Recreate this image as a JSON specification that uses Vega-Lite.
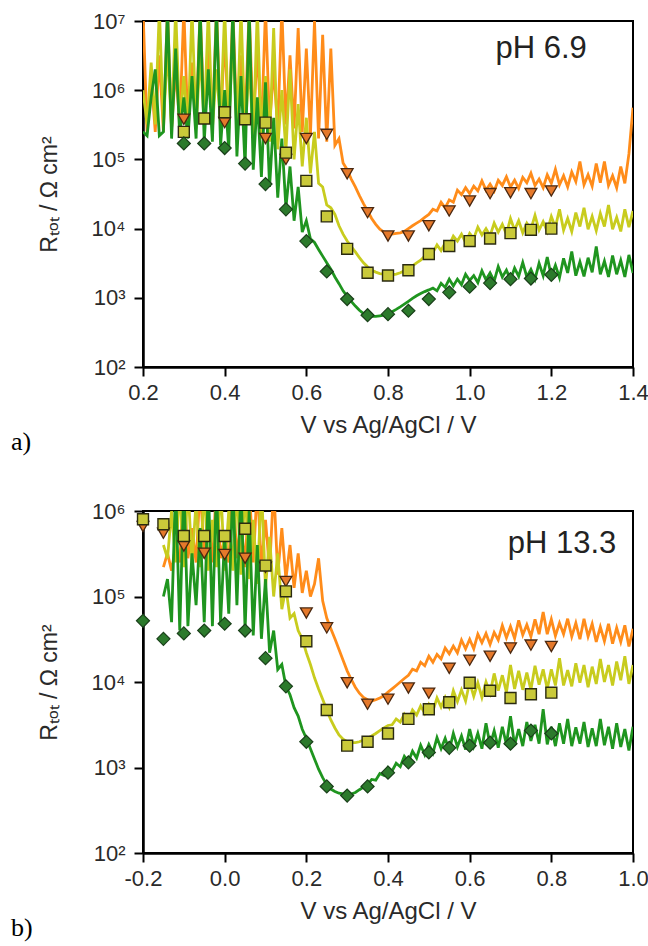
{
"$schema": "https://vega.github.io/schema/vega-lite/v6.json",
"padding": {"left": 10, "top": 9, "right": 0, "bottom": 0},
"background": "white",
"config": {
 "view": {"stroke": "black", "strokeWidth": 2},
 "font": "Liberation Sans",
 "axis": {"domainColor": "black", "domainWidth": 2.5, "tickColor": "black", "tickWidth": 2, "tickSize": 9, "labelFlush": false, "labelFont": "Liberation Sans", "labelFontSize": 22, "labelColor": "#2a2a2a", "titleFont": "Liberation Sans", "titleFontWeight": "normal", "titleColor": "#2a2a2a", "grid": false}
},
"datasets": {
 "la": [
{"x":0.20,"or":1.5e7,"ye":1e6,"gr":2.5e5},
{"x":0.21,"or":2.5e5,"ye":3.2e5,"gr":2.2e5},
{"x":0.22,"or":1.6e6,"ye":2.5e6,"gr":7.9e5},
{"x":0.23,"or":2.5e5,"ye":3.2e5,"gr":2e6},
{"x":0.24,"or":3.2e6,"ye":1.5e7,"gr":2.2e5},
{"x":0.25,"or":2.5e5,"ye":3.2e5,"gr":2.5e5},
{"x":0.26,"or":1.5e7,"ye":4e6,"gr":1.5e7},
{"x":0.27,"or":2.8e5,"ye":2.8e5,"gr":2e5},
{"x":0.28,"or":2e6,"ye":1.5e7,"gr":4e6},
{"x":0.29,"or":3.2e5,"ye":3.2e5,"gr":2.2e5},
{"x":0.30,"or":1.5e7,"ye":1.6e6,"gr":7.9e5},
{"x":0.31,"or":2.8e5,"ye":2.5e5,"gr":2e5},
{"x":0.32,"or":2.5e6,"ye":1.5e7,"gr":1.6e6},
{"x":0.33,"or":3.2e5,"ye":2.8e5,"gr":2e5},
{"x":0.34,"or":1.5e7,"ye":3.2e6,"gr":1.5e7},
{"x":0.35,"or":3.2e5,"ye":3.2e5,"gr":1.8e5},
{"x":0.36,"or":4e6,"ye":1.5e7,"gr":2e6},
{"x":0.37,"or":3.2e5,"ye":2.8e5,"gr":1.8e5},
{"x":0.38,"or":1.5e7,"ye":2e6,"gr":1.5e7},
{"x":0.39,"or":3.2e5,"ye":3.2e5,"gr":1.6e5},
{"x":0.40,"or":6.3e6,"ye":1.5e7,"gr":1e6},
{"x":0.41,"or":2.8e5,"ye":2.8e5,"gr":1.4e5},
{"x":0.42,"or":1.5e7,"ye":6.3e6,"gr":1.5e7},
{"x":0.43,"or":3.2e5,"ye":2.5e5,"gr":1.1e5},
{"x":0.44,"or":3.2e6,"ye":1.5e7,"gr":1.6e6},
{"x":0.45,"or":3.2e5,"ye":2.2e5,"gr":7.9e4},
{"x":0.46,"or":1.5e7,"ye":2.5e6,"gr":1.5e7},
{"x":0.47,"or":2.8e5,"ye":2e5,"gr":7.1e4},
{"x":0.48,"or":4e6,"ye":1.5e7,"gr":7.9e5},
{"x":0.49,"or":2.5e5,"ye":2e5,"gr":5.6e4},
{"x":0.50,"or":1.5e7,"ye":1.6e6,"gr":1.3e6},
{"x":0.51,"or":3.2e5,"ye":1.8e5,"gr":4e4},
{"x":0.52,"or":2e6,"ye":7.9e6,"gr":4e5},
{"x":0.53,"or":2.8e5,"ye":1.4e5,"gr":2.8e4},
{"x":0.54,"or":1.5e7,"ye":1e6,"gr":2e5},
{"x":0.55,"or":3.2e5,"ye":1.3e5,"gr":2e4},
{"x":0.56,"or":3.2e6,"ye":2e6,"gr":7.9e4},
{"x":0.57,"or":2.8e5,"ye":1e5,"gr":1.3e4},
{"x":0.58,"or":7.9e6,"ye":6.3e5,"gr":4e4},
{"x":0.59,"or":2.5e5,"ye":7.9e4,"gr":8.9e3},
{"x":0.60,"or":4e6,"ye":4e5,"gr":1.3e4},
{"x":0.61,"or":2.2e5,"ye":6.3e4,"gr":7.1e3},
{"x":0.62,"or":1e7,"ye":2.5e5,"gr":6.3e3},
{"x":0.63,"or":2e5,"ye":4.5e4,"gr":5e3},
{"x":0.64,"or":6.3e6,"ye":4e4,"gr":4e3},
{"x":0.65,"or":1.8e5,"ye":2.2e4,"gr":3.2e3},
{"x":0.66,"or":4e6,"ye":2e4,"gr":2.6e3},
{"x":0.67,"or":1.6e5,"ye":1.6e4,"gr":2e3},
{"x":0.68,"or":2e5,"ye":1.1e4,"gr":1.6e3},
{"x":0.69,"or":8.9e4,"ye":8.3e3,"gr":1.26e3},
{"x":0.70,"or":7.1e4,"ye":6.6e3,"gr":1.05e3},
{"x":0.71,"or":5.2e4,"ye":5.5e3,"gr":890},
{"x":0.72,"or":4e4,"ye":4.6e3,"gr":760},
{"x":0.73,"or":3e4,"ye":3.8e3,"gr":660},
{"x":0.74,"or":2.3e4,"ye":3.2e3,"gr":590},
{"x":0.75,"or":1.8e4,"ye":2.8e3,"gr":550},
{"x":0.76,"or":1.4e4,"ye":2.5e3,"gr":540},
{"x":0.77,"or":1.15e4,"ye":2.35e3,"gr":540},
{"x":0.78,"or":9.8e3,"ye":2.24e3,"gr":550},
{"x":0.79,"or":8.9e3,"ye":2.2e3,"gr":560},
{"x":0.80,"or":8.5e3,"ye":2.15e3,"gr":590},
{"x":0.81,"or":8.3e3,"ye":2.15e3,"gr":630},
{"x":0.82,"or":8.5e3,"ye":2.2e3,"gr":680},
{"x":0.83,"or":8.7e3,"ye":2.3e3,"gr":740},
{"x":0.84,"or":9.1e3,"ye":2.45e3,"gr":810},
{"x":0.85,"or":1e4,"ye":2.6e3,"gr":890},
{"x":0.86,"or":1.1e4,"ye":2.9e3,"gr":980},
{"x":0.87,"or":1.2e4,"ye":3.2e3,"gr":1070},
{"x":0.88,"or":1.3e4,"ye":3.5e3,"gr":1150},
{"x":0.89,"or":1.45e4,"ye":4e3,"gr":1230},
{"x":0.90,"or":1.6e4,"ye":4.4e3,"gr":1300},
{"x":0.91,"or":1.9e4,"ye":4.5e3,"gr":1380},
{"x":0.92,"or":1.8e4,"ye":5.8e3,"gr":1260},
{"x":0.93,"or":2.4e4,"ye":4.8e3,"gr":1620},
{"x":0.94,"or":2.0e4,"ye":6.2e3,"gr":1410},
{"x":0.95,"or":2.6e4,"ye":5.8e3,"gr":1860},
{"x":0.96,"or":2.4e4,"ye":7.8e3,"gr":1480},
{"x":0.97,"or":3.6e4,"ye":6.6e3,"gr":1860},
{"x":0.98,"or":3.1e4,"ye":8.3e3,"gr":1550},
{"x":0.99,"or":3.9e4,"ye":6.3e3,"gr":2190},
{"x":1.00,"or":3.2e4,"ye":8.5e3,"gr":1780},
{"x":1.01,"or":4.1e4,"ye":7.2e3,"gr":2090},
{"x":1.02,"or":3.5e4,"ye":1.05e4,"gr":1660},
{"x":1.03,"or":4.9e4,"ye":8.1e3,"gr":2450},
{"x":1.04,"or":3.6e4,"ye":1.0e4,"gr":1820},
{"x":1.05,"or":4.4e4,"ye":7.9e3,"gr":2290},
{"x":1.06,"or":3.5e4,"ye":1.2e4,"gr":1740},
{"x":1.07,"or":5.0e4,"ye":8.9e3,"gr":2820},
{"x":1.08,"or":4.2e4,"ye":1.15e4,"gr":2000},
{"x":1.09,"or":5.6e4,"ye":8.3e3,"gr":2510},
{"x":1.10,"or":4.0e4,"ye":1.4e4,"gr":1820},
{"x":1.11,"or":5.0e4,"ye":9.5e3,"gr":2690},
{"x":1.12,"or":3.8e4,"ye":1.3e4,"gr":2040},
{"x":1.13,"or":5.5e4,"ye":8.7e3,"gr":3240},
{"x":1.14,"or":4.6e4,"ye":1.2e4,"gr":2000},
{"x":1.15,"or":6.3e4,"ye":9.8e3,"gr":2570},
{"x":1.16,"or":4.2e4,"ye":1.55e4,"gr":1860},
{"x":1.17,"or":5.2e4,"ye":9.5e3,"gr":3160},
{"x":1.18,"or":3.9e4,"ye":1.26e4,"gr":2090},
{"x":1.19,"or":6.0e4,"ye":9.1e3,"gr":3890},
{"x":1.20,"or":4.5e4,"ye":1.5e4,"gr":2040},
{"x":1.21,"or":7.2e4,"ye":1.05e4,"gr":2950},
{"x":1.22,"or":4.3e4,"ye":1.9e4,"gr":1950},
{"x":1.23,"or":5.8e4,"ye":9.5e3,"gr":3720},
{"x":1.24,"or":4.0e4,"ye":1.4e4,"gr":2290},
{"x":1.25,"or":6.6e4,"ye":9.1e3,"gr":4680},
{"x":1.26,"or":4.8e4,"ye":1.7e4,"gr":2090},
{"x":1.27,"or":9.3e4,"ye":1.07e4,"gr":3310},
{"x":1.28,"or":4.3e4,"ye":2.0e4,"gr":2040},
{"x":1.29,"or":6.0e4,"ye":9.8e3,"gr":3800},
{"x":1.30,"or":4.1e4,"ye":1.5e4,"gr":2340},
{"x":1.31,"or":8.7e4,"ye":9.3e3,"gr":5500},
{"x":1.32,"or":4.6e4,"ye":1.66e4,"gr":2190},
{"x":1.33,"or":9.3e4,"ye":1.07e4,"gr":3390},
{"x":1.34,"or":4.2e4,"ye":2.2e4,"gr":2000},
{"x":1.35,"or":5.8e4,"ye":9.8e3,"gr":4070},
{"x":1.36,"or":3.9e4,"ye":1.45e4,"gr":2190},
{"x":1.37,"or":7.9e4,"ye":9.1e3,"gr":3470},
{"x":1.38,"or":4.5e4,"ye":1.9e4,"gr":2000},
{"x":1.39,"or":1.2e5,"ye":1.05e4,"gr":4170},
{"x":1.40,"or":5.6e5,"ye":1.8e4,"gr":2290}
 ],
 "lb": [
{"x":-0.15,"or":2.2e5,"ye":4e5,"gr":1e5},
{"x":-0.14,"or":3.2e5,"ye":2.8e5,"gr":1.6e5},
{"x":-0.13,"or":2e5,"ye":1e6,"gr":5e4},
{"x":-0.12,"or":4e5,"ye":2.5e5,"gr":2e6},
{"x":-0.11,"or":2.5e5,"ye":2e6,"gr":4e4},
{"x":-0.10,"or":2e6,"ye":2.2e5,"gr":2e6},
{"x":-0.09,"or":2.8e5,"ye":2e6,"gr":4.5e4},
{"x":-0.08,"or":6.3e5,"ye":2.5e5,"gr":3.2e5},
{"x":-0.07,"or":2.5e5,"ye":1.26e6,"gr":7.9e4},
{"x":-0.06,"or":2e6,"ye":2.2e5,"gr":6.3e5},
{"x":-0.05,"or":2.8e5,"ye":2e6,"gr":5e4},
{"x":-0.04,"or":7.9e5,"ye":2e5,"gr":2e6},
{"x":-0.03,"or":2.5e5,"ye":7.9e5,"gr":4.5e4},
{"x":-0.02,"or":2e6,"ye":2.2e5,"gr":2e6},
{"x":-0.01,"or":2.8e5,"ye":2e6,"gr":5e4},
{"x":0.00,"or":5e5,"ye":2e5,"gr":5e5},
{"x":0.01,"or":2.5e5,"ye":1e6,"gr":6.3e4},
{"x":0.02,"or":2e6,"ye":2e5,"gr":2e6},
{"x":0.03,"or":2.8e5,"ye":2e6,"gr":7.9e4},
{"x":0.04,"or":7.9e5,"ye":1.8e5,"gr":2e6},
{"x":0.05,"or":2.2e5,"ye":2e6,"gr":4e4},
{"x":0.06,"or":2e6,"ye":1.6e5,"gr":1e6},
{"x":0.07,"or":2.5e5,"ye":7.9e5,"gr":3.5e4},
{"x":0.08,"or":2e6,"ye":1.4e5,"gr":4e5},
{"x":0.09,"or":2.2e5,"ye":2e6,"gr":3.2e4},
{"x":0.10,"or":7.9e5,"ye":1.26e5,"gr":1.6e5},
{"x":0.11,"or":2e5,"ye":5e5,"gr":2.2e4},
{"x":0.12,"or":2e6,"ye":1e5,"gr":4e4},
{"x":0.13,"or":1.8e5,"ye":3.2e5,"gr":1.4e4},
{"x":0.14,"or":6.3e5,"ye":7.1e4,"gr":1.6e4},
{"x":0.15,"or":1.6e5,"ye":1.26e5,"gr":8.9e3},
{"x":0.16,"or":4e5,"ye":5.6e4,"gr":7.1e3},
{"x":0.17,"or":1.26e5,"ye":6.3e4,"gr":5e3},
{"x":0.18,"or":3.2e5,"ye":4e4,"gr":4e3},
{"x":0.19,"or":1.1e5,"ye":3.2e4,"gr":2.8e3},
{"x":0.20,"or":2e5,"ye":2.2e4,"gr":2.2e3},
{"x":0.21,"or":1e5,"ye":1.6e4,"gr":1660},
{"x":0.22,"or":1.4e5,"ye":1.12e4,"gr":1260},
{"x":0.23,"or":2.8e5,"ye":8.3e3,"gr":955},
{"x":0.24,"or":8.9e4,"ye":6.3e3,"gr":760},
{"x":0.25,"or":5.6e4,"ye":4.7e3,"gr":630},
{"x":0.26,"or":4.2e4,"ye":3.6e3,"gr":560},
{"x":0.27,"or":3.2e4,"ye":2.9e3,"gr":525},
{"x":0.28,"or":2.4e4,"ye":2.4e3,"gr":500},
{"x":0.29,"or":1.8e4,"ye":2.14e3,"gr":490},
{"x":0.30,"or":1.35e4,"ye":2e3,"gr":480},
{"x":0.31,"or":1.07e4,"ye":1.95e3,"gr":490},
{"x":0.32,"or":8.7e3,"ye":1.95e3,"gr":510},
{"x":0.33,"or":7.4e3,"ye":2e3,"gr":550},
{"x":0.34,"or":6.6e3,"ye":2.1e3,"gr":590},
{"x":0.35,"or":6.2e3,"ye":2.2e3,"gr":630},
{"x":0.36,"or":6e3,"ye":2.34e3,"gr":725},
{"x":0.37,"or":6.2e3,"ye":2.5e3,"gr":710},
{"x":0.38,"or":6.5e3,"ye":2.7e3,"gr":850},
{"x":0.39,"or":6.9e3,"ye":2.9e3,"gr":810},
{"x":0.40,"or":7.6e3,"ye":3.1e3,"gr":1000},
{"x":0.41,"or":8.3e3,"ye":3.16e3,"gr":910},
{"x":0.42,"or":9.1e3,"ye":3.7e3,"gr":1120},
{"x":0.43,"or":1e4,"ye":3.4e3,"gr":1020},
{"x":0.44,"or":1.1e4,"ye":4.2e3,"gr":1350},
{"x":0.45,"or":1.2e4,"ye":3.6e3,"gr":1170},
{"x":0.46,"or":1.41e4,"ye":4.7e3,"gr":1550},
{"x":0.47,"or":1.35e4,"ye":4.1e3,"gr":1290},
{"x":0.48,"or":1.7e4,"ye":5.25e3,"gr":1820},
{"x":0.49,"or":1.55e4,"ye":4.3e3,"gr":1410},
{"x":0.50,"or":2.0e4,"ye":5.5e3,"gr":1860},
{"x":0.51,"or":1.7e4,"ye":4.6e3,"gr":1480},
{"x":0.52,"or":2.1e4,"ye":6.5e3,"gr":2240},
{"x":0.53,"or":1.86e4,"ye":5.1e3,"gr":1660},
{"x":0.54,"or":2.5e4,"ye":6.6e3,"gr":2190},
{"x":0.55,"or":2.14e4,"ye":5.1e3,"gr":1580},
{"x":0.56,"or":2.63e4,"ye":7.9e3,"gr":2510},
{"x":0.57,"or":2.19e4,"ye":5.9e3,"gr":1740},
{"x":0.58,"or":3.1e4,"ye":8.1e3,"gr":2340},
{"x":0.59,"or":2.45e4,"ye":6.0e3,"gr":1620},
{"x":0.60,"or":3.16e4,"ye":1.0e4,"gr":2820},
{"x":0.61,"or":2.45e4,"ye":6.8e3,"gr":1780},
{"x":0.62,"or":3.63e4,"ye":9.8e3,"gr":2510},
{"x":0.63,"or":2.88e4,"ye":6.6e3,"gr":1660},
{"x":0.64,"or":3.7e4,"ye":1.0e4,"gr":3300},
{"x":0.65,"or":2.75e4,"ye":7.4e3,"gr":1820},
{"x":0.66,"or":3.8e4,"ye":1.26e4,"gr":2690},
{"x":0.67,"or":3.1e4,"ye":7.9e3,"gr":1700},
{"x":0.68,"or":4.57e4,"ye":1.2e4,"gr":3000},
{"x":0.69,"or":3.3e4,"ye":7.6e3,"gr":1860},
{"x":0.70,"or":4.47e4,"ye":1.58e4,"gr":3980},
{"x":0.71,"or":3.24e4,"ye":8.3e3,"gr":1820},
{"x":0.72,"or":5.25e4,"ye":1.35e4,"gr":2820},
{"x":0.73,"or":3.55e4,"ye":8.1e3,"gr":1780},
{"x":0.74,"or":4.68e4,"ye":1.29e4,"gr":3400},
{"x":0.75,"or":3.4e4,"ye":8.1e3,"gr":2040},
{"x":0.76,"or":5.4e4,"ye":1.55e4,"gr":3160},
{"x":0.77,"or":3.63e4,"ye":9.3e3,"gr":1900},
{"x":0.78,"or":6.6e4,"ye":1.41e4,"gr":4800},
{"x":0.79,"or":3.63e4,"ye":8.3e3,"gr":1860},
{"x":0.80,"or":5.4e4,"ye":1.41e4,"gr":3000},
{"x":0.81,"or":3.47e4,"ye":9.1e3,"gr":1780},
{"x":0.82,"or":4.9e4,"ye":1.9e4,"gr":3300},
{"x":0.83,"or":3.63e4,"ye":9.1e3,"gr":1900},
{"x":0.84,"or":5.5e4,"ye":1.38e4,"gr":3700},
{"x":0.85,"or":3.4e4,"ye":8.9e3,"gr":1780},
{"x":0.86,"or":4.9e4,"ye":1.66e4,"gr":2950},
{"x":0.87,"or":3.16e4,"ye":9.8e3,"gr":1900},
{"x":0.88,"or":5.5e4,"ye":1.58e4,"gr":3400},
{"x":0.89,"or":3.4e4,"ye":8.7e3,"gr":1740},
{"x":0.90,"or":4.8e4,"ye":1.51e4,"gr":2880},
{"x":0.91,"or":2.95e4,"ye":9.5e3,"gr":1780},
{"x":0.92,"or":4.4e4,"ye":1.86e4,"gr":3700},
{"x":0.93,"or":3.0e4,"ye":1.0e4,"gr":1820},
{"x":0.94,"or":4.8e4,"ye":1.58e4,"gr":3000},
{"x":0.95,"or":2.8e4,"ye":9.1e3,"gr":1660},
{"x":0.96,"or":4.3e4,"ye":1.74e4,"gr":3300},
{"x":0.97,"or":2.95e4,"ye":1.05e4,"gr":1740},
{"x":0.98,"or":4.6e4,"ye":2.0e4,"gr":2820},
{"x":0.99,"or":2.6e4,"ye":9.5e3,"gr":1580},
{"x":1.00,"or":4.2e4,"ye":1.58e4,"gr":3000}
 ],
 "ma": [
{"x":0.30,"s":"t","v":3.8e5},{"x":0.40,"s":"t","v":3.4e5},{"x":0.50,"s":"t","v":2.0e5},{"x":0.55,"s":"t","v":1.0e5},{"x":0.60,"s":"t","v":2.0e5},{"x":0.65,"s":"t","v":2.3e5},{"x":0.70,"s":"t","v":6.2e4},{"x":0.75,"s":"t","v":1.7e4},{"x":0.80,"s":"t","v":7.8e3},{"x":0.85,"s":"t","v":7.8e3},{"x":0.90,"s":"t","v":1.1e4},{"x":0.95,"s":"t","v":1.8e4},{"x":1.00,"s":"t","v":2.5e4},{"x":1.05,"s":"t","v":3.2e4},{"x":1.10,"s":"t","v":3.3e4},{"x":1.15,"s":"t","v":3.2e4},{"x":1.20,"s":"t","v":3.5e4},
{"x":0.30,"s":"q","v":2.5e5},{"x":0.35,"s":"q","v":3.9e5},{"x":0.40,"s":"q","v":4.8e5},{"x":0.45,"s":"q","v":3.8e5},{"x":0.50,"s":"q","v":3.4e5},{"x":0.55,"s":"q","v":1.25e5},{"x":0.60,"s":"q","v":4.9e4},{"x":0.65,"s":"q","v":1.5e4},{"x":0.70,"s":"q","v":5.1e3},{"x":0.75,"s":"q","v":2.3e3},{"x":0.80,"s":"q","v":2.1e3},{"x":0.85,"s":"q","v":2.5e3},{"x":0.90,"s":"q","v":4.3e3},{"x":0.95,"s":"q","v":5.6e3},{"x":1.00,"s":"q","v":6.6e3},{"x":1.05,"s":"q","v":7.2e3},{"x":1.10,"s":"q","v":8.6e3},{"x":1.15,"s":"q","v":9.6e3},{"x":1.20,"s":"q","v":1.0e4},
{"x":0.30,"s":"d","v":1.7e5},{"x":0.35,"s":"d","v":1.7e5},{"x":0.40,"s":"d","v":1.46e5},{"x":0.45,"s":"d","v":8.7e4},{"x":0.50,"s":"d","v":4.4e4},{"x":0.55,"s":"d","v":1.9e4},{"x":0.60,"s":"d","v":6.6e3},{"x":0.65,"s":"d","v":2.4e3},{"x":0.70,"s":"d","v":960},{"x":0.75,"s":"d","v":560},{"x":0.80,"s":"d","v":580},{"x":0.85,"s":"d","v":650},{"x":0.90,"s":"d","v":960},{"x":0.95,"s":"d","v":1200},{"x":1.00,"s":"d","v":1450},{"x":1.05,"s":"d","v":1630},{"x":1.10,"s":"d","v":1860},{"x":1.15,"s":"d","v":1900},{"x":1.20,"s":"d","v":2150}
 ],
 "mb": [
{"x":-0.20,"s":"t","v":6.6e5},{"x":-0.15,"s":"t","v":5.5e5},{"x":-0.10,"s":"t","v":3.9e5},{"x":-0.05,"s":"t","v":3.2e5},{"x":0.00,"s":"t","v":3.1e5},{"x":0.05,"s":"t","v":2.8e5},{"x":0.10,"s":"t","v":2.2e5},{"x":0.15,"s":"t","v":1.5e5},{"x":0.20,"s":"t","v":6.4e4},{"x":0.25,"s":"t","v":4.3e4},{"x":0.30,"s":"t","v":9.8e3},{"x":0.35,"s":"t","v":5.5e3},{"x":0.40,"s":"t","v":6.3e3},{"x":0.45,"s":"t","v":8.5e3},{"x":0.50,"s":"t","v":7.4e3},{"x":0.55,"s":"t","v":1.45e4},{"x":0.60,"s":"t","v":1.8e4},{"x":0.65,"s":"t","v":2.0e4},{"x":0.70,"s":"t","v":2.5e4},{"x":0.75,"s":"t","v":2.7e4},{"x":0.80,"s":"t","v":2.6e4},
{"x":-0.20,"s":"q","v":8.0e5},{"x":-0.15,"s":"q","v":7.0e5},{"x":-0.10,"s":"q","v":5.1e5},{"x":-0.05,"s":"q","v":5.1e5},{"x":0.00,"s":"q","v":5.1e5},{"x":0.05,"s":"q","v":6.2e5},{"x":0.10,"s":"q","v":2.3e5},{"x":0.15,"s":"q","v":1.15e5},{"x":0.20,"s":"q","v":3.0e4},{"x":0.25,"s":"q","v":4.7e3},{"x":0.30,"s":"q","v":1.8e3},{"x":0.35,"s":"q","v":2.0e3},{"x":0.40,"s":"q","v":2.5e3},{"x":0.45,"s":"q","v":3.7e3},{"x":0.50,"s":"q","v":4.8e3},{"x":0.55,"s":"q","v":5.8e3},{"x":0.60,"s":"q","v":9.8e3},{"x":0.65,"s":"q","v":7.9e3},{"x":0.70,"s":"q","v":6.5e3},{"x":0.75,"s":"q","v":7.2e3},{"x":0.80,"s":"q","v":7.5e3},
{"x":-0.20,"s":"d","v":5.2e4},{"x":-0.15,"s":"d","v":3.2e4},{"x":-0.10,"s":"d","v":3.7e4},{"x":-0.05,"s":"d","v":4.0e4},{"x":0.00,"s":"d","v":4.8e4},{"x":0.05,"s":"d","v":4.0e4},{"x":0.10,"s":"d","v":1.9e4},{"x":0.15,"s":"d","v":8.9e3},{"x":0.20,"s":"d","v":2.0e3},{"x":0.25,"s":"d","v":600},{"x":0.30,"s":"d","v":470},{"x":0.35,"s":"d","v":600},{"x":0.40,"s":"d","v":870},{"x":0.45,"s":"d","v":1150},{"x":0.50,"s":"d","v":1500},{"x":0.55,"s":"d","v":1700},{"x":0.60,"s":"d","v":1800},{"x":0.65,"s":"d","v":1950},{"x":0.70,"s":"d","v":1900},{"x":0.75,"s":"d","v":2700},{"x":0.80,"s":"d","v":2500}
 ]
},
"bounds": "flush",
"spacing": 144,
"vconcat": [
 {
  "width": 490, "height": 346,
  "title": {"text": "a)", "orient": "bottom", "anchor": "start", "frame": "group", "dx": -132, "offset": -8, "font": "Liberation Serif", "fontSize": 26, "fontWeight": "normal", "color": "black"},
  "encoding": {
   "x": {"field": "x", "type": "quantitative", "scale": {"domain": [0.2, 1.4], "nice": false, "zero": false},
     "axis": {"values": [0.2, 0.4, 0.6, 0.8, 1.0, 1.2, 1.4], "labelExpr": "format(datum.value, '.1f')", "title": "V vs Ag/AgCl / V", "titleFontSize": 24, "titlePadding": 10, "labelPadding": 6}},
   "y": {"field": "v", "type": "quantitative", "scale": {"type": "log", "domain": [100, 10000000], "nice": false},
     "axis": {"values": [100, 1000, 10000, 100000, 1000000, 10000000], "labelExpr": "'10' + ['⁰','¹','²','³','⁴','⁵','⁶','⁷'][round(log(datum.value)/LN10)]", "title": "Rₜₒₜ / Ω cm²", "titleFontSize": 23, "titlePadding": 30, "labelPadding": 9}}
  },
  "layer": [
   {"data": {"name": "la"}, "transform": [{"fold": ["or"], "as": ["k", "v"]}], "mark": {"type": "line", "clip": true, "strokeWidth": 2.8, "color": "#FF8C1A"}},
   {"data": {"name": "la"}, "transform": [{"fold": ["ye"], "as": ["k", "v"]}], "mark": {"type": "line", "clip": true, "strokeWidth": 2.8, "color": "#C8CC1E"}},
   {"data": {"name": "la"}, "transform": [{"fold": ["gr"], "as": ["k", "v"]}], "mark": {"type": "line", "clip": true, "strokeWidth": 2.8, "color": "#1F951F"}},
   {"data": {"name": "ma"}, "transform": [{"filter": "datum.s == 't'"}],
    "mark": {"type": "point", "shape": "triangle-down", "size": 140, "filled": true, "fill": "#E5792B", "stroke": "#4A2810", "strokeWidth": 1.3, "opacity": 1}},
   {"data": {"name": "ma"}, "transform": [{"filter": "datum.s == 'q'"}],
    "mark": {"type": "point", "shape": "square", "size": 120, "filled": true, "fill": "#C9C93A", "stroke": "#2A2A10", "strokeWidth": 1.4, "opacity": 1}},
   {"data": {"name": "ma"}, "transform": [{"filter": "datum.s == 'd'"}],
    "mark": {"type": "point", "shape": "diamond", "size": 170, "filled": true, "fill": "#2C7A2C", "stroke": "#1A401A", "strokeWidth": 1.2, "opacity": 1}},
   {"data": {"values": [{"t": "pH 6.9", "x": 1.175, "v": 3.9e6}]},
    "mark": {"type": "text", "fontSize": 31, "font": "Liberation Sans", "color": "#222", "align": "center", "baseline": "middle"},
    "encoding": {"text": {"field": "t"}}}
  ]
 },
 {
  "width": 490, "height": 342,
  "title": {"text": "b)", "orient": "bottom", "anchor": "start", "frame": "group", "dx": -132, "offset": -8, "font": "Liberation Serif", "fontSize": 26, "fontWeight": "normal", "color": "black"},
  "encoding": {
   "x": {"field": "x", "type": "quantitative", "scale": {"domain": [-0.2, 1.0], "nice": false, "zero": false},
     "axis": {"values": [-0.2, 0, 0.2, 0.4, 0.6, 0.8, 1.0], "labelExpr": "replace(format(datum.value, '.1f'), '−', '-')", "title": "V vs Ag/AgCl / V", "titleFontSize": 24, "titlePadding": 10, "labelPadding": 6}},
   "y": {"field": "v", "type": "quantitative", "scale": {"type": "log", "domain": [100, 1000000], "nice": false},
     "axis": {"values": [100, 1000, 10000, 100000, 1000000], "labelExpr": "'10' + ['⁰','¹','²','³','⁴','⁵','⁶','⁷'][round(log(datum.value)/LN10)]", "title": "Rₜₒₜ / Ω cm²", "titleFontSize": 23, "titlePadding": 30, "labelPadding": 9}}
  },
  "layer": [
   {"data": {"name": "lb"}, "transform": [{"fold": ["or"], "as": ["k", "v"]}], "mark": {"type": "line", "clip": true, "strokeWidth": 2.8, "color": "#FF8C1A"}},
   {"data": {"name": "lb"}, "transform": [{"fold": ["ye"], "as": ["k", "v"]}], "mark": {"type": "line", "clip": true, "strokeWidth": 2.8, "color": "#C8CC1E"}},
   {"data": {"name": "lb"}, "transform": [{"fold": ["gr"], "as": ["k", "v"]}], "mark": {"type": "line", "clip": true, "strokeWidth": 2.8, "color": "#1F951F"}},
   {"data": {"name": "mb"}, "transform": [{"filter": "datum.s == 't'"}],
    "mark": {"type": "point", "shape": "triangle-down", "size": 140, "filled": true, "fill": "#E5792B", "stroke": "#4A2810", "strokeWidth": 1.3, "opacity": 1}},
   {"data": {"name": "mb"}, "transform": [{"filter": "datum.s == 'q'"}],
    "mark": {"type": "point", "shape": "square", "size": 120, "filled": true, "fill": "#C9C93A", "stroke": "#2A2A10", "strokeWidth": 1.4, "opacity": 1}},
   {"data": {"name": "mb"}, "transform": [{"filter": "datum.s == 'd'"}],
    "mark": {"type": "point", "shape": "diamond", "size": 170, "filled": true, "fill": "#2C7A2C", "stroke": "#1A401A", "strokeWidth": 1.2, "opacity": 1}},
   {"data": {"values": [{"t": "pH 13.3", "x": 0.826, "v": 4.1e5}]},
    "mark": {"type": "text", "fontSize": 31, "font": "Liberation Sans", "color": "#222", "align": "center", "baseline": "middle"},
    "encoding": {"text": {"field": "t"}}}
  ]
 }
]
}
